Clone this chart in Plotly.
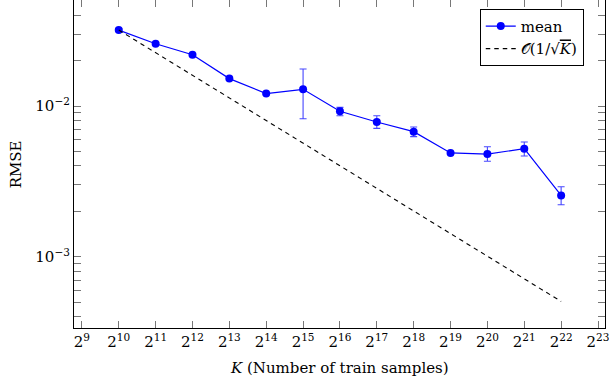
import math
import plotly.graph_objects as go

# ---- data ----
exponents = [10, 11, 12, 13, 14, 15, 16, 17, 18, 19, 20, 21, 22]
rmse_mean = [0.0319, 0.0259, 0.0219, 0.0152, 0.0121, 0.0129, 0.00922,
             0.00783, 0.00676, 0.00488, 0.00480, 0.00521, 0.00255]
rmse_upper = [0.0326, 0.0263, 0.0223, 0.0155, 0.0123, 0.0176, 0.00980,
              0.00862, 0.00726, 0.00496, 0.00537, 0.00577, 0.00291]
rmse_lower = [0.0312, 0.0255, 0.0215, 0.0149, 0.0119, 0.00824, 0.00862,
              0.00711, 0.00626, 0.00480, 0.00430, 0.00466, 0.00221]
ref_exponents = [10, 22]
ref_values = [0.0319, 0.000505]
xtick_exponents = list(range(9, 24))
ytick_values = [1e-3, 1e-2]
ytick_labels = ["10<sup>−3</sup>", "10<sup>−2</sup>"]
yminor_values = [4e-4, 5e-4, 6e-4, 7e-4, 8e-4, 9e-4,
                 2e-3, 3e-3, 4e-3, 5e-3, 6e-3, 7e-3, 8e-3, 9e-3,
                 2e-2, 3e-2, 4e-2, 5e-2]

K = [2 ** e for e in exponents]
K_ref = [2 ** e for e in ref_exponents]
err_plus = [u - m for u, m in zip(rmse_upper, rmse_mean)]
err_minus = [m - l for m, l in zip(rmse_mean, rmse_lower)]

FONT = "DejaVu Serif"
BLUE = "rgb(0,0,255)"

fig = go.Figure()
fig.add_trace(go.Scatter(
    x=K, y=rmse_mean, mode="lines+markers", name="mean",
    line=dict(color=BLUE, width=1.2),
    marker=dict(color=BLUE, size=8, line=dict(width=0)),
    error_y=dict(type="data", symmetric=False, array=err_plus,
                 arrayminus=err_minus, color="rgb(70,70,255)",
                 thickness=1.1, width=3.5),
))
fig.add_trace(go.Scatter(
    x=K_ref, y=ref_values, mode="lines",
    name="𝒪(1/√<span style='text-decoration:overline'><i>K</i></span>)",
    line=dict(color="black", width=1.1, dash="4.5px,4px"),
))
# invisible trace on top x axis for mirrored ticks
fig.add_trace(go.Scatter(x=K_ref, y=ref_values, xaxis="x2", mode="none",
                         showlegend=False, hoverinfo="skip"))

L2 = math.log10(2)
xrange = [8.786 * L2, 23.19 * L2]
yrange = [-3.473, -1.2966]

xtickvals = [2 ** e for e in xtick_exponents]
xticktext = [f"2<sup>{e}</sup>" for e in xtick_exponents]

fig.update_layout(
    width=609, height=383,
    margin=dict(l=74, r=1, t=0, b=55),
    paper_bgcolor="white", plot_bgcolor="white",
    font=dict(family=FONT, size=15, color="black"),
    showlegend=True,
    legend=dict(x=0.96, y=0.973, xanchor="right", yanchor="top",
                bgcolor="white", bordercolor="black", borderwidth=1,
                font=dict(family=FONT, size=15), tracegroupgap=0,
                itemwidth=30),
    xaxis=dict(type="log", range=xrange, tickmode="array",
               tickvals=xtickvals, ticktext=xticktext,
               ticks="inside", ticklen=7, tickwidth=1, tickcolor="#777",
               showline=True, linecolor="black", linewidth=1.2,
               showgrid=False, zeroline=False, ticklabeloverflow="allow",
               tickfont=dict(family=FONT, size=15)),
    xaxis2=dict(type="log", range=xrange, overlaying="x", side="top",
                tickmode="array", tickvals=xtickvals, showticklabels=False,
                ticks="inside", ticklen=7, tickwidth=1, tickcolor="#777",
                showline=False, showgrid=False, zeroline=False),
    yaxis=dict(type="log", range=yrange, tickmode="array",
               tickvals=ytick_values, ticktext=ytick_labels,
               ticks="inside", ticklen=7, tickwidth=1, tickcolor="#777",
               minor=dict(tickmode="array", tickvals=yminor_values,
                          ticks="inside", ticklen=4.5, tickwidth=1,
                          tickcolor="#777", showgrid=False),
               showline=True, mirror="allticks", linecolor="black",
               linewidth=1.2, showgrid=False, zeroline=False,
               tickfont=dict(family=FONT, size=15)),
)
fig.add_annotation(text="<i>K</i> (Number of train samples)", xref="paper",
                   yref="paper", x=0.5, y=-0.122, xanchor="center",
                   yanchor="middle", showarrow=False,
                   font=dict(family=FONT, size=15))
fig.add_annotation(text="RMSE", xref="paper", yref="paper", x=-0.1086,
                   y=0.5, xanchor="center", yanchor="middle",
                   showarrow=False, textangle=-90,
                   font=dict(family=FONT, size=15))

fig.write_html("out.html")
